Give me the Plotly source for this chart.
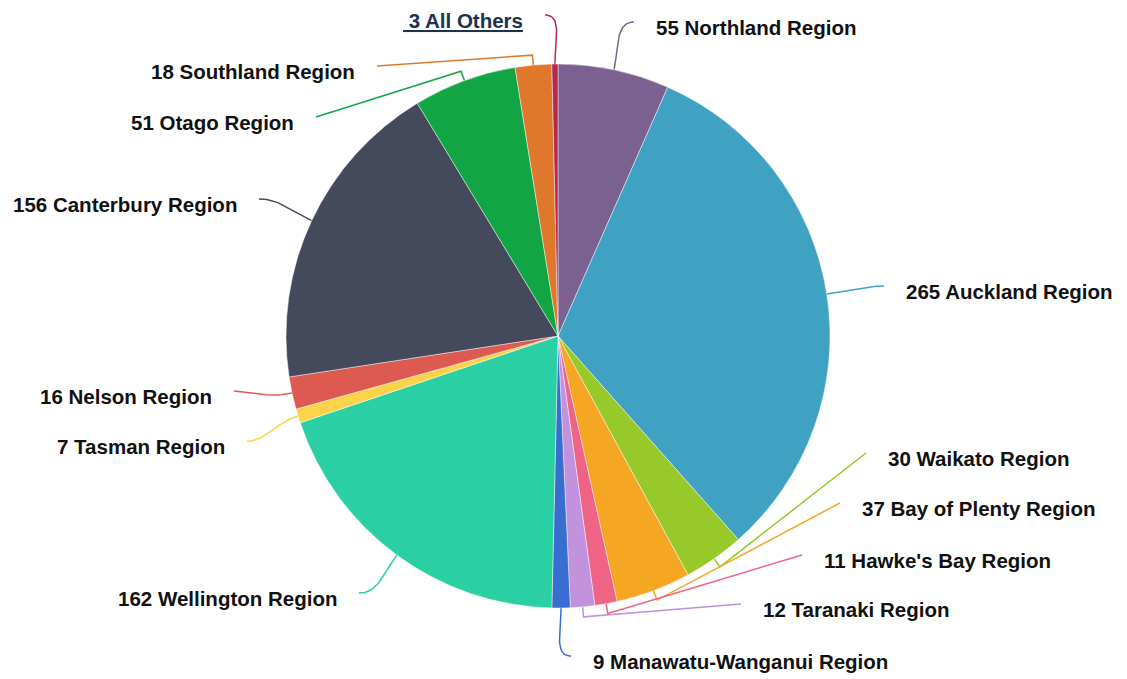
import numpy as np
import plotly.graph_objects as go

# ---------------- data ----------------
regions = ["Northland Region", "Auckland Region", "Waikato Region", "Bay of Plenty Region",
           "Hawke's Bay Region", "Taranaki Region", "Manawatu-Wanganui Region",
           "Wellington Region", "Tasman Region", "Nelson Region", "Canterbury Region",
           "Otago Region", "Southland Region", "All Others"]
counts = [55, 265, 30, 37, 11, 12, 9, 162, 7, 16, 156, 51, 18, 3]

# ---------------- style / layout ----------------
colors = ["#7b6190", "#40a2c3", "#97c92a", "#f5a623", "#ef6384", "#c292dc", "#3a6dd0",
          "#2bcfa4", "#fdd34a", "#dd5a50", "#444a5c", "#12a544", "#e0782b", "#b5294e"]
# connector end points (page pixels) where the label sits
label_end_x = [634, 884, 866, 840, 802, 741, 571, 359, 247, 234, 259, 316, 377, 545]
label_end_y = [22, 286, 453, 503, 555, 604, 656, 593, 441, 391, 199, 117, 66, 15]
label_side = ["r", "r", "r", "r", "r", "r", "r", "l", "l", "l", "l", "l", "l", "l"]
connector_kind = ["curve", "curve", "stub", "stub", "stub", "stub", "curve",
                  "curve", "curve", "curve", "curve", "stub", "stub", "curve"]

W, H = 1127, 679
CX, CY, R = 558.0, 336.0, 272.0  # page pixels

fig = go.Figure()
fig.add_trace(go.Pie(
    labels=regions, values=counts, sort=False, direction="clockwise", rotation=0,
    marker=dict(colors=colors, line=dict(color="rgba(255,255,255,0.55)", width=0.8)),
    textinfo="none", hoverinfo="label+value", showlegend=False,
    domain=dict(x=[(CX - R) / W, (CX + R) / W],
                y=[(H - (CY + R)) / H, (H - (CY - R)) / H]),
))

total = float(sum(counts))
cum = np.cumsum([0] + counts)
annotations = []
for i, name in enumerate(regions):
    mid = (cum[i] + counts[i] / 2.0) / total * 2 * np.pi
    dx, dy = np.sin(mid), -np.cos(mid)
    p0 = np.array([CX + R * dx, CY + R * dy])
    p2 = np.array([label_end_x[i], label_end_y[i]], dtype=float)
    if connector_kind[i] == "stub":
        p1 = p0 + 10 * np.array([dx, dy])
        pts = np.array([p0, p1, p2])
    else:
        d = np.linalg.norm(p2 - p0)
        k = 0.45 * d
        c1 = p0 + k * np.array([dx, dy])
        hdir = -1.0 if label_side[i] == "r" else 1.0
        c2 = p2 + np.array([hdir * k * 0.8, 0.0])
        t = np.linspace(0, 1, 30)[:, None]
        pts = ((1 - t) ** 3) * p0 + 3 * ((1 - t) ** 2) * t * c1 + 3 * (1 - t) * t ** 2 * c2 + t ** 3 * p2
    fig.add_trace(go.Scatter(x=pts[:, 0], y=pts[:, 1], mode="lines",
                             line=dict(color=colors[i], width=1.5),
                             hoverinfo="skip", showlegend=False,
                             xaxis="x", yaxis="y"))
    txt = f"<b>{counts[i]} {name}</b>"
    if name == "All Others":
        txt = f"<u><b> {counts[i]} {name}</b></u>"
        fcol = "#1b3350"
    else:
        fcol = "#111111"
    if label_side[i] == "r":
        ax, anc = label_end_x[i] + 20, "left"
    else:
        ax, anc = label_end_x[i] - 20, "right"
    annotations.append(dict(x=ax, y=label_end_y[i] + 5, xref="x", yref="y", text=txt,
                            showarrow=False, xanchor=anc, yanchor="middle",
                            font=dict(family="Liberation Sans, Arial, sans-serif",
                                      size=20.5, color=fcol)))

fig.update_layout(
    width=W, height=H, margin=dict(l=0, r=0, t=0, b=0),
    paper_bgcolor="white", plot_bgcolor="rgba(0,0,0,0)",
    xaxis=dict(range=[0, W], visible=False, fixedrange=True, domain=[0, 1]),
    yaxis=dict(range=[H, 0], visible=False, fixedrange=True, domain=[0, 1]),
    annotations=annotations,
    font=dict(family="Liberation Sans, Arial, sans-serif"),
)
fig.write_html(
    "out.html",
    config={"displayModeBar": False},
    post_script="document.body.style.margin='0';document.documentElement.style.overflow='hidden';",
)
